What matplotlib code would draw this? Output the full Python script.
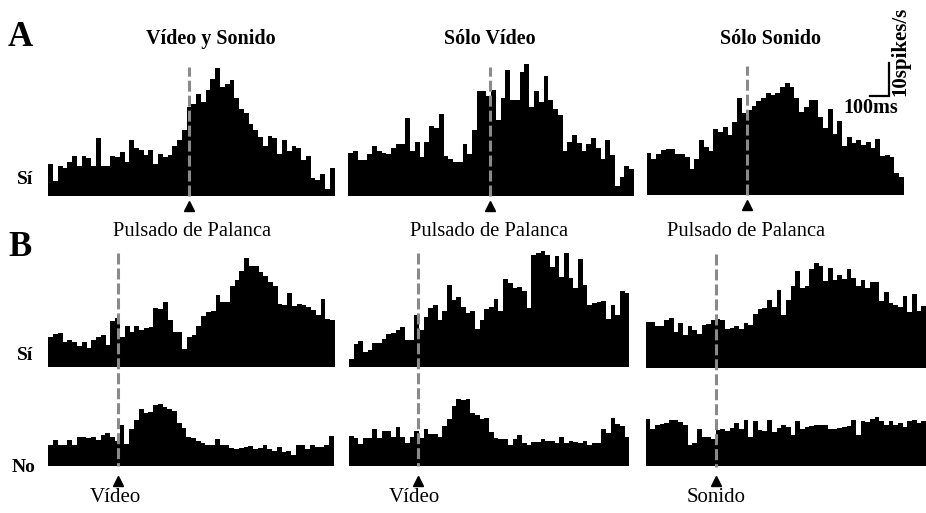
import numpy as np
import matplotlib
matplotlib.use("Agg")
import matplotlib.pyplot as plt

plt.rcParams['font.family'] = ['Liberation Serif', 'DejaVu Serif']

BIN_MS = 25  # histogram bin width (ms)

# Peri-event firing rate (spikes/s), one value per 25 ms bin
# A: aligned on lever press
a_video_sonido = [9.6, 4.5, 9.0, 8.6, 10.2, 12.2, 9.2, 12.0, 11.6, 9.2,
                  17.5, 9.2, 9.2, 12.2, 11.8, 13.2, 10.2, 17.1, 14.6, 14.0,
                  12.4, 14.0, 9.6, 12.6, 11.8, 12.4, 15.3, 16.9, 20.1, 27.0,
                  28.0, 31.0, 28.4, 32.2, 35.6, 38.9, 33.0, 34.0, 35.1, 29.8,
                  26.5, 25.2, 21.9, 20.1, 17.9, 15.3, 18.1, 17.7, 12.8, 16.9,
                  13.6, 15.3, 14.6, 10.8, 12.2, 5.6, 4.7, 6.8, 2.1, 8.4]
a_solo_video = [13.0, 13.6, 11.0, 11.0, 12.6, 15.1, 13.6, 13.0, 12.8, 14.4,
                15.9, 15.9, 23.5, 13.6, 16.3, 11.8, 16.5, 21.3, 20.7, 24.7,
                12.2, 11.2, 10.4, 10.4, 15.9, 12.8, 20.1, 31.8, 31.8, 30.2,
                32.0, 23.1, 29.8, 38.3, 29.0, 29.0, 37.6, 39.9, 27.0, 31.8,
                28.5, 36.3, 29.0, 26.5, 24.4, 13.6, 16.3, 18.5, 16.1, 13.6,
                15.9, 17.7, 14.6, 11.2, 16.9, 12.4, 3.1, 5.8, 9.2, 8.2]
a_solo_sonido = [12.6, 10.8, 12.4, 13.6, 14.0, 13.8, 12.4, 12.4, 11.6, 7.8,
                 11.0, 16.7, 14.6, 13.4, 20.1, 19.1, 20.5, 18.1, 22.1, 29.4,
                 24.7, 25.8, 27.0, 28.6, 29.4, 30.8, 30.4, 30.8, 32.6, 33.8,
                 32.6, 29.4, 25.2, 26.8, 28.8, 28.8, 23.5, 20.3, 26.0, 18.5,
                 22.3, 14.8, 17.7, 15.7, 16.7, 15.3, 16.1, 14.2, 17.1, 11.8,
                 12.0, 11.6, 6.6, 5.6]

# B: aligned on stimulus onset, rewarded ("Sí") and unrewarded ("No") trials
b_video_si = [9.1, 10.1, 10.3, 7.7, 8.1, 7.7, 6.5, 7.5, 5.7, 8.1,
              9.1, 9.7, 6.7, 13.9, 14.9, 9.1, 12.5, 10.7, 12.3, 11.3,
              11.7, 12.1, 17.8, 17.6, 19.6, 14.1, 10.5, 10.5, 5.5, 9.1,
              9.8, 12.3, 15.4, 16.6, 16.9, 21.8, 19.6, 19.6, 24.4, 26.5,
              29.1, 33.1, 30.7, 30.7, 28.9, 27.7, 25.9, 24.4, 19.0, 18.8,
              22.4, 18.6, 19.0, 18.8, 18.2, 17.4, 15.8, 20.6, 14.5, 14.1]
b_video2_si = [2.5, 7.0, 8.0, 4.5, 5.2, 7.2, 7.2, 8.4, 10.0, 10.2,
               11.2, 12.2, 8.2, 8.2, 15.7, 11.2, 15.1, 17.9, 18.7, 14.2,
               16.9, 24.7, 20.3, 21.1, 18.3, 16.5, 17.1, 11.6, 14.2, 17.5,
               18.1, 20.7, 16.9, 26.6, 25.4, 23.9, 24.3, 22.9, 17.9, 33.8,
               34.4, 35.1, 34.0, 30.4, 33.6, 27.2, 34.4, 27.0, 23.9, 32.6,
               24.7, 18.7, 19.5, 19.7, 20.1, 14.4, 18.7, 15.7, 22.9, 22.3]
b_sonido_si = [13.9, 13.9, 12.7, 12.7, 14.3, 14.9, 10.9, 13.5, 9.9, 12.5,
               11.3, 10.3, 12.9, 13.1, 14.3, 14.7, 14.3, 11.7, 11.9, 12.5,
               11.7, 13.5, 12.9, 16.2, 17.8, 18.0, 20.4, 18.4, 23.6, 15.8,
               20.4, 24.8, 29.1, 24.2, 24.8, 29.9, 31.7, 30.7, 26.3, 30.1,
               26.5, 28.1, 26.7, 29.9, 27.1, 24.6, 26.5, 24.0, 25.9, 25.9,
               20.2, 23.0, 19.4, 18.8, 18.2, 21.6, 16.8, 22.2, 17.0, 18.6]
b_video_no = [6.5, 7.9, 6.5, 6.3, 7.9, 6.3, 8.7, 8.7, 8.5, 8.9,
              7.9, 9.5, 9.9, 8.7, 7.5, 12.3, 6.7, 11.1, 13.9, 17.2,
              16.0, 16.4, 18.6, 18.8, 18.0, 17.4, 16.6, 13.1, 11.5, 8.9,
              8.5, 7.5, 7.1, 6.5, 6.3, 8.1, 6.5, 6.3, 5.5, 5.1,
              5.5, 5.9, 6.1, 5.1, 5.5, 6.5, 5.1, 4.4, 5.7, 4.2,
              4.4, 3.4, 6.3, 6.3, 5.3, 6.5, 5.9, 5.7, 6.3, 9.1]
b_video2_no = [9.1, 8.5, 6.7, 8.5, 8.5, 11.1, 8.5, 10.5, 10.5, 8.9,
               11.7, 8.9, 7.1, 8.9, 10.7, 8.5, 11.3, 9.7, 9.7, 8.7,
               12.1, 14.1, 18.2, 20.4, 20.0, 20.2, 16.0, 15.4, 14.3, 14.5,
               10.3, 8.5, 8.3, 8.3, 6.3, 8.3, 9.3, 6.9, 6.5, 7.3,
               7.3, 8.1, 7.5, 7.7, 6.9, 8.7, 6.9, 7.5, 7.3, 7.1,
               7.5, 6.5, 6.9, 7.1, 11.1, 9.9, 14.5, 12.7, 12.1, 8.7]
b_sonido_no = [14.3, 11.3, 12.3, 12.7, 13.1, 13.9, 13.9, 13.3, 12.5, 6.3,
               6.9, 11.1, 8.7, 8.9, 8.1, 10.9, 11.1, 10.7, 11.5, 12.9,
               11.1, 13.9, 8.9, 13.7, 10.9, 10.7, 13.9, 10.3, 11.5, 12.5,
               11.9, 9.5, 13.5, 11.3, 11.9, 12.1, 12.3, 12.5, 12.3, 11.1,
               11.3, 11.5, 11.7, 12.1, 13.9, 9.3, 13.5, 13.3, 14.1, 14.7,
               13.5, 12.3, 13.7, 12.3, 13.1, 11.9, 13.5, 13.9, 12.9, 13.5]

# time of the first bin relative to the event (ms)
t_start = {
    'a1': -740, 'a2': -745, 'a3': -525,
    'b1': -365, 'b2': -370, 'b3': -375,
}

titles = ['Vídeo y Sonido', 'Sólo Vídeo', 'Sólo Sonido']
event_a = 'Pulsado de Palanca'
events_b = ['Vídeo', 'Vídeo', 'Sonido']

W, H = 926, 513
PX_PER_RATE = 3.3
fig = plt.figure(figsize=(W / 100, H / 100), dpi=100)
GREY = '#8a8a8a'
DASH = (0, (3.6, 1.3))


def panel(left, right, base, ymax, values, t0, zorder=1):
    h = ymax * PX_PER_RATE
    ax = fig.add_axes([left / W, 1 - base / H, (right - left) / W, h / H])
    edges = t0 + BIN_MS * np.arange(len(values) + 1)
    ax.stairs(values, edges, fill=True, color='black', linewidth=0)
    ax.set_xlim(edges[0], edges[-1])
    ax.set_ylim(0, ymax)
    ax.axis('off')
    ax.set_zorder(zorder)
    return ax


def px_text(x, y, s, **kw):
    fig.text(x / W, 1 - y / H, s, ha='center', va='center', **kw)


# ---- row A
ax_a1 = panel(48.3, 334.5, 196, 40, a_video_sonido, t_start['a1'])
ax_a2 = panel(348.3, 634.0, 196, 40, a_solo_video, t_start['a2'])
ax_a3 = panel(646.7, 904.0, 195, 40, a_solo_sonido, t_start['a3'])
for ax in (ax_a1, ax_a2, ax_a3):
    ax.plot([0, 0], [0, 39.0], color=GREY, lw=2.2, linestyle=DASH,
            clip_on=False, solid_capstyle='butt')
    ax.plot([0], [-3.0], marker='^', color='black', markersize=7,
            clip_on=False, linestyle='none')

# scale bar on the last panel of row A
ax_a3.plot([645, 745, 745], [30, 30, 40], color='black', lw=1.6,
           clip_on=False, solid_joinstyle='miter')

# ---- row B
ax_b1 = panel(48.3, 335.0, 367, 36, b_video_si, t_start['b1'], zorder=3)
ax_b2 = panel(349.0, 629.3, 367, 36, b_video2_si, t_start['b2'], zorder=3)
ax_b3 = panel(645.7, 926.0, 367.5, 36, b_sonido_si, t_start['b3'], zorder=3)
ax_c1 = panel(48.3, 334.0, 466, 22, b_video_no, t_start['b1'])
ax_c2 = panel(349.0, 629.3, 466, 22, b_video2_no, t_start['b2'])
ax_c3 = panel(645.7, 926.0, 466, 22, b_sonido_no, t_start['b3'])
for ax in (ax_b1, ax_b2, ax_b3):
    # dashed marker through both rows of B (same rate scale in both rows)
    ax.plot([0, 0], [34.5, -(466 - 367) / PX_PER_RATE], color=GREY, lw=2.2,
            linestyle=DASH, clip_on=False, solid_capstyle='butt')
for ax in (ax_c1, ax_c2, ax_c3):
    ax.plot([0], [-4.5], marker='^', color='black', markersize=7,
            clip_on=False, linestyle='none')

# ---- labels
bold = dict(fontweight='bold')
px_text(20, 38, 'A', fontsize=25, **bold)
px_text(20, 248, 'B', fontsize=25, **bold)
for x, t in zip([211, 490, 770], titles):
    px_text(x, 39, t, fontsize=14.5, **bold)
for x in [192, 489, 746]:
    px_text(x, 232, event_a, fontsize=14.8)
for x, t in zip([115, 414, 716], events_b):
    px_text(x, 497, t, fontsize=15)
px_text(25, 180, 'Sí', fontsize=14, **bold)
px_text(25, 356, 'Sí', fontsize=14, **bold)
px_text(24, 467, 'No', fontsize=14, **bold)
px_text(900, 51, '10spikes/s', fontsize=15, rotation=90, **bold)
px_text(871, 108, '100ms', fontsize=14.5, **bold)

fig.savefig('out.png', dpi=100)
